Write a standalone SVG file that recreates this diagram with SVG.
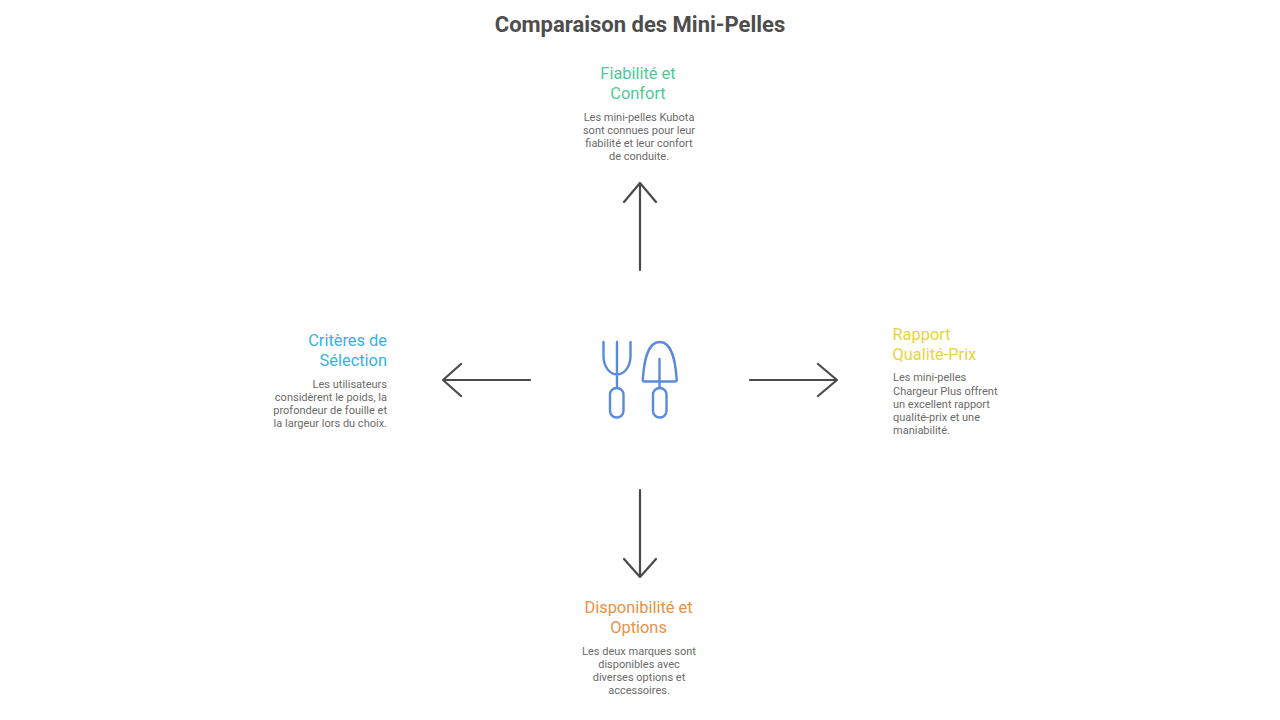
<svg xmlns="http://www.w3.org/2000/svg" width="1280" height="720" viewBox="0 0 1280 720">
<style>
text{font-family:Roboto,"Liberation Sans",sans-serif}
.t{font-size:22px;font-weight:700;fill:#4d4d4d}
.h{font-size:16.4px}
.b{font-size:11px;fill:#6a6a6a}
.m{text-anchor:middle}.e{text-anchor:end}
.a{fill:none;stroke:#4a4a4a;stroke-width:2.2;stroke-linecap:round;stroke-linejoin:round}
.i{fill:none;stroke:#5a8ade;stroke-width:2.4;stroke-linecap:round;stroke-linejoin:round}
</style>
<rect width="1280" height="720" fill="#fff"/>
<text class="t m" x="640" y="32">Comparaison des Mini-Pelles</text>
<g id="connectors">
<path class="a" d="M640 270V183M624 202L640 183L656 202"/>
<path class="a" d="M530 380H443M461 364L443 380L461 396"/>
<path class="a" d="M750 380H837M818 364L837 380L818 396"/>
<path class="a" d="M640 490V577M624 559L640 577L656 559"/>
</g>
<g id="center-icon">
<path class="i" d="M603.500 342V356C603.500 367 610 374.500 617 374.500C624 374.500 630.500 367 630.500 356V342M617 342V388"/>
<rect class="i" x="610" y="388" width="13.500" height="29.500" rx="6.700"/>
<path class="i" d="M644.500 381.500C643 381.500 642.600 381 642.800 379.500C644 362 647 342 659.700 342C672.500 342 675.500 362 676.700 379.500C676.900 381 676.500 381.500 675 381.500Z"/>
<path class="i" d="M659.500 359V388"/>
<rect class="i" x="653" y="388" width="13.500" height="29.500" rx="6.700"/>
</g>
<g id="node-top">
<text class="h m" x="638" y="79" fill="#4fca95">Fiabilité et</text>
<text class="h m" x="638" y="99" fill="#4fca95">Confort</text>
<text class="b m" x="639" y="121">Les mini-pelles Kubota</text>
<text class="b m" x="639" y="134">sont connues pour leur</text>
<text class="b m" x="639" y="147">fiabilité et leur confort</text>
<text class="b m" x="639" y="160">de conduite.</text>
</g>
<g id="node-left">
<text class="h e" x="387" y="346" fill="#35b3de">Critères de</text>
<text class="h e" x="387" y="366" fill="#35b3de">Sélection</text>
<text class="b e" x="387" y="388">Les utilisateurs</text>
<text class="b e" x="387" y="401">considèrent le poids, la</text>
<text class="b e" x="387" y="414">profondeur de fouille et</text>
<text class="b e" x="387" y="427">la largeur lors du choix.</text>
</g>
<g id="node-right">
<text class="h" x="892.500" y="339.500" fill="#ead43c">Rapport</text>
<text class="h" x="892.500" y="359.500" fill="#ead43c">Qualité-Prix</text>
<text class="b" x="893" y="381">Les mini-pelles</text>
<text class="b" x="893" y="395">Chargeur Plus offrent</text>
<text class="b" x="893" y="408">un excellent rapport</text>
<text class="b" x="893" y="421">qualité-prix et une</text>
<text class="b" x="893" y="434">maniabilité.</text>
</g>
<g id="node-bottom">
<text class="h m" x="638.500" y="613" fill="#e89148">Disponibilité et</text>
<text class="h m" x="638.500" y="633" fill="#e89148">Options</text>
<text class="b m" x="639" y="655">Les deux marques sont</text>
<text class="b m" x="639" y="668">disponibles avec</text>
<text class="b m" x="639" y="681">diverses options et</text>
<text class="b m" x="639" y="694">accessoires.</text>
</g>
</svg>
